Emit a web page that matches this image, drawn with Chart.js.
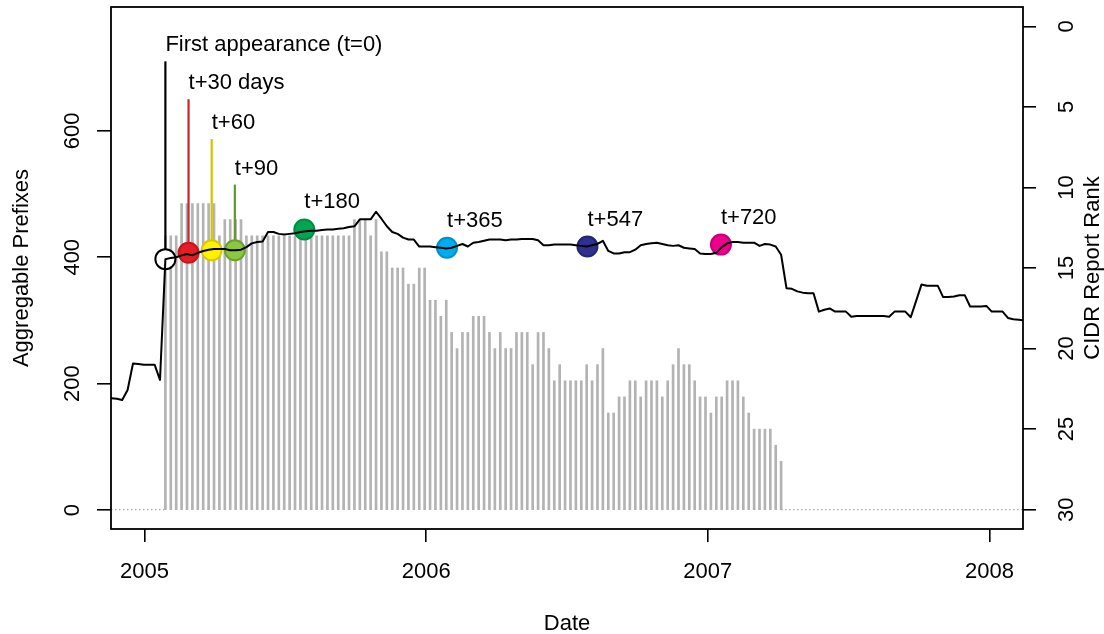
<!DOCTYPE html>
<html>
<head>
<meta charset="utf-8">
<title>Aggregable prefixes and CIDR Report rank</title>
<script src="https://cdn.jsdelivr.net/npm/chart.js@4.4.1/dist/chart.umd.min.js"></script>
<style>
  html, body { margin: 0; padding: 0; background: #ffffff; }
  #wrap { width: 1104px; height: 634px; }
</style>
</head>
<body>
<div id="wrap"><canvas id="chart" width="1104" height="634"></canvas></div>
<script>
// ---------------------------------------------------------------------------
// Data
// ---------------------------------------------------------------------------
const axisOrigin = '2005-01-01';        // day 0 of the date axis
const firstSeen = '2005-01-28';         // first weekly report listing the prefix (t = 0)
const prefixSeriesStart = '2004-11-12'; // first weekly sample of the prefix count

// Weekly aggregable-prefix counts (left axis), one value per week from prefixSeriesStart
const aggregablePrefixes = [
  178, 177, 176, 174, 190, 232, 231, 230, 230, 230,
  206, 397, 399, 400, 403, 405, 403, 407, 410, 412,
  413, 413, 413, 411, 411, 412, 416, 422, 424, 425,
  440, 440, 437, 436, 437, 438, 440, 441, 442, 442,
  443, 444, 444, 445, 446, 448, 449, 460, 460, 460,
  472, 461, 449, 440, 437, 431, 428, 428, 417, 417,
  417, 416, 415, 414, 415, 418, 421, 417, 423, 424,
  426, 428, 428, 428, 427, 428, 428, 429, 429, 429,
  427, 419, 419, 420, 420, 420, 420, 419, 418, 417,
  419, 421, 426, 410, 406, 406, 408, 408, 412, 419,
  421, 422, 423, 421, 419, 418, 419, 415, 414, 413,
  406, 405, 405, 407, 416, 422, 424, 424, 423, 423,
  423, 418, 421, 420, 417, 404, 351, 350, 346, 344,
  343, 343, 314, 317, 319, 314, 314, 314, 306, 307,
  307, 307, 307, 307, 307, 306, 314, 314, 314, 305,
  331, 357, 355, 355, 355, 337, 337, 338, 340, 340,
  322, 322, 322, 323, 314, 314, 314, 304, 302, 301,
  300
];

// Weekly CIDR Report rank (right axis) from firstSeen until the prefix drops out of the top 30
const weeklyRank = [
  13, 13, 13, 11, 11, 11, 11, 11, 11, 11,
  13, 12, 12, 12, 12, 13, 13, 13, 13, 13,
  13, 13, 13, 13, 13, 13, 13, 13, 13, 13,
  13, 13, 13, 13, 13, 12, 12, 12, 13, 12,
  14, 14, 15, 15, 15, 16, 16, 15, 15, 17,
  17, 18, 17, 19, 20, 19, 19, 18, 18, 18,
  19, 20, 19, 20, 20, 19, 19, 19, 21, 19,
  19, 20, 22, 21, 22, 22, 22, 22, 21, 22,
  21, 20, 24, 24, 23, 23, 22, 22, 23, 22,
  22, 22, 23, 22, 21, 20, 21, 21, 22, 23,
  23, 24, 23, 23, 22, 22, 22, 23, 24, 25,
  25, 25, 25, 26, 27
];
const unrankedLevel = 30;               // rank shown while not in the top 30

// Milestones after first appearance
const milestoneDays = [0, 30, 60, 90, 180, 365, 547, 720];
const milestoneLabels = ['First appearance (t=0)', 't+30 days', 't+60', 't+90',
                         't+180', 't+365', 't+547', 't+720'];
const milestonePrefixes = [397, 407, 411, 411, 444, 415, 417, 420];
const stemTopPrefixes = [710, 650, 587, 515];   // pointer heights for the first four milestones

// Tick labels
const yearTicks = [2005, 2006, 2007, 2008];
const prefixTicks = [0, 200, 400, 600];
const rankTicks = [0, 5, 10, 15, 20, 25, 30];

// ---------------------------------------------------------------------------
// Styles
// ---------------------------------------------------------------------------
const milestoneFill = ['#ffffff', '#e31e24', '#fff200', '#8dc63f', '#00a651', '#00aeef', '#2e3192', '#ec008c'];
const milestoneEdge = ['#000000', '#c4161c', '#d9c800', '#6b9f2f', '#008c44', '#0090c8', '#23276f', '#c4007a'];
const stemColors = ['#000000', '#c1272d', '#d2c200', '#62982c'];
const FONT = '22px "Liberation Sans", Arial, Helvetica, sans-serif';
const PLOT = { left: 111, top: 7, right: 1023, bottom: 529 };

// ---------------------------------------------------------------------------
// Helpers
// ---------------------------------------------------------------------------
function dayOf(iso) {
  const [y, m, d] = iso.split('-').map(Number);
  const [oy, om, od] = axisOrigin.split('-').map(Number);
  return (Date.UTC(y, m - 1, d) - Date.UTC(oy, om - 1, od)) / 86400000;
}
const t0 = dayOf(firstSeen);
const prefixStart = dayOf(prefixSeriesStart);
const xMinDay = -43.5, xMaxDay = 1138.5;

const prefixPoints = aggregablePrefixes.map((v, i) => ({ x: prefixStart + 7 * i, y: v }));
const rankBars = weeklyRank.map((r, i) => ({ x: t0 + 7 * i, y: [unrankedLevel, r] }));
const lastRankedDay = t0 + 7 * (weeklyRank.length - 1);
const unrankedLine = [
  { x: xMinDay, y: unrankedLevel }, { x: t0, y: unrankedLevel },
  { x: (t0 + lastRankedDay) / 2, y: null },
  { x: lastRankedDay, y: unrankedLevel }, { x: xMaxDay, y: unrankedLevel }
];
const milestonePoints = milestoneDays.map((d, i) => ({ x: t0 + d, y: milestonePrefixes[i] }));
const stemSets = stemTopPrefixes.map((top, i) => ({
  type: 'line',
  data: [{ x: t0 + milestoneDays[i], y: milestonePrefixes[i] }, { x: t0 + milestoneDays[i], y: top }],
  yAxisID: 'yPrefix',
  borderColor: stemColors[i],
  borderWidth: 2.2,
  pointRadius: 0,
  order: 2
}));
const yearTickDays = yearTicks.map(y => dayOf(y + '-01-01'));

// ---------------------------------------------------------------------------
// Plugins: frame box and all text
// ---------------------------------------------------------------------------
const framePlugin = {
  id: 'frameBox',
  afterDatasetsDraw(chart) {
    const { ctx, chartArea: a } = chart;
    ctx.save();
    ctx.strokeStyle = '#000000';
    ctx.lineWidth = 1.8;
    ctx.strokeRect(a.left, a.top, a.right - a.left, a.bottom - a.top);
    ctx.restore();
  }
};

function rotatedText(ctx, text, x, y) {
  ctx.save();
  ctx.translate(x, y);
  ctx.rotate(-Math.PI / 2);
  ctx.fillText(text, 0, 0);
  ctx.restore();
}

const textPlugin = {
  id: 'textLayer',
  afterDraw(chart) {
    const { ctx, chartArea: a } = chart;
    const xs = chart.scales.x, yp = chart.scales.yPrefix, yr = chart.scales.yRank;
    ctx.save();
    ctx.fillStyle = '#000000';
    ctx.font = FONT;
    ctx.textBaseline = 'alphabetic';

    // date tick labels
    ctx.textAlign = 'center';
    yearTicks.forEach((yr0, i) => ctx.fillText(String(yr0), xs.getPixelForValue(yearTickDays[i]), 578));
    ctx.fillText('Date', (a.left + a.right) / 2, 630);

    // left axis labels
    prefixTicks.forEach(v => rotatedText(ctx, String(v), 78.5, yp.getPixelForValue(v)));
    rotatedText(ctx, 'Aggregable Prefixes', 28, (a.top + a.bottom) / 2);

    // right axis labels
    rankTicks.forEach(v => rotatedText(ctx, String(v), 1073, yr.getPixelForValue(v)));
    rotatedText(ctx, 'CIDR Report Rank', 1099, (a.top + a.bottom) / 2);

    // milestone captions
    ctx.textAlign = 'left';
    milestoneLabels.forEach((label, i) => {
      const px = xs.getPixelForValue(t0 + milestoneDays[i]);
      const py = i < stemTopPrefixes.length
        ? yp.getPixelForValue(stemTopPrefixes[i]) - 10
        : yp.getPixelForValue(milestonePrefixes[i]) - 21;
      ctx.fillText(label, px, py);
    });
    ctx.restore();
  }
};

// ---------------------------------------------------------------------------
// Chart
// ---------------------------------------------------------------------------
const tickGrid = len => ({
  display: true, drawOnChartArea: false, drawTicks: true, offset: false,
  tickLength: len, color: '#000000', lineWidth: 1.6
});

const chart = new Chart(document.getElementById('chart').getContext('2d'), {
  type: 'line',
  data: {
    datasets: [
      {
        type: 'line',
        label: 'Aggregable Prefixes',
        data: prefixPoints,
        yAxisID: 'yPrefix',
        borderColor: '#000000',
        borderWidth: 2,
        borderJoinStyle: 'round',
        borderCapStyle: 'round',
        pointRadius: 0,
        tension: 0,
        order: 0
      },
      {
        type: 'scatter',
        label: 'Milestones',
        data: milestonePoints,
        yAxisID: 'yPrefix',
        pointRadius: 10,
        pointBorderWidth: 2,
        pointBackgroundColor: milestoneFill,
        pointBorderColor: milestoneEdge,
        showLine: false,
        order: 1
      },
      ...stemSets,
      {
        type: 'line',
        label: 'Not ranked',
        data: unrankedLine,
        yAxisID: 'yRank',
        borderColor: '#a8a8a8',
        borderWidth: 1.4,
        borderDash: [1.5, 2.5],
        pointRadius: 0,
        spanGaps: false,
        order: 3
      },
      {
        type: 'bar',
        label: 'CIDR Report Rank',
        data: rankBars,
        yAxisID: 'yRank',
        backgroundColor: '#b3b3b3',
        borderWidth: 0,
        barThickness: 2,
        order: 4
      }
    ]
  },
  options: {
    responsive: false,
    animation: false,
    devicePixelRatio: 1,
    layout: { autoPadding: false, padding: { top: PLOT.top, left: 0, right: 0, bottom: 0 } },
    plugins: { legend: { display: false }, tooltip: { enabled: false } },
    scales: {
      x: {
        type: 'linear',
        position: 'bottom',
        min: xMinDay,
        max: xMaxDay,
        offset: false,
        afterBuildTicks: s => { s.ticks = yearTickDays.map(v => ({ value: v })); },
        afterFit: s => { s.height = 634 - PLOT.bottom - PLOT.top + PLOT.top; },
        ticks: { display: false },
        grid: tickGrid(13),
        border: { display: false }
      },
      yPrefix: {
        type: 'linear',
        position: 'left',
        min: -30,
        max: 796,
        afterBuildTicks: s => { s.ticks = prefixTicks.map(v => ({ value: v })); },
        afterFit: s => { s.width = PLOT.left; },
        ticks: { display: false },
        grid: tickGrid(14),
        border: { display: false }
      },
      yRank: {
        type: 'linear',
        position: 'right',
        reverse: true,
        min: -1.2,
        max: 31.2,
        afterBuildTicks: s => { s.ticks = rankTicks.map(v => ({ value: v })); },
        afterFit: s => { s.width = 1104 - PLOT.right; },
        ticks: { display: false },
        grid: tickGrid(13),
        border: { display: false }
      }
    }
  },
  plugins: [framePlugin, textPlugin]
});

// keep the plot box where the layout expects it
const dTop = chart.chartArea.top - PLOT.top;
if (Math.abs(dTop) > 0.5) {
  chart.options.layout.padding.top = Math.max(0, PLOT.top - dTop);
  chart.update();
}
</script>
</body>
</html>
